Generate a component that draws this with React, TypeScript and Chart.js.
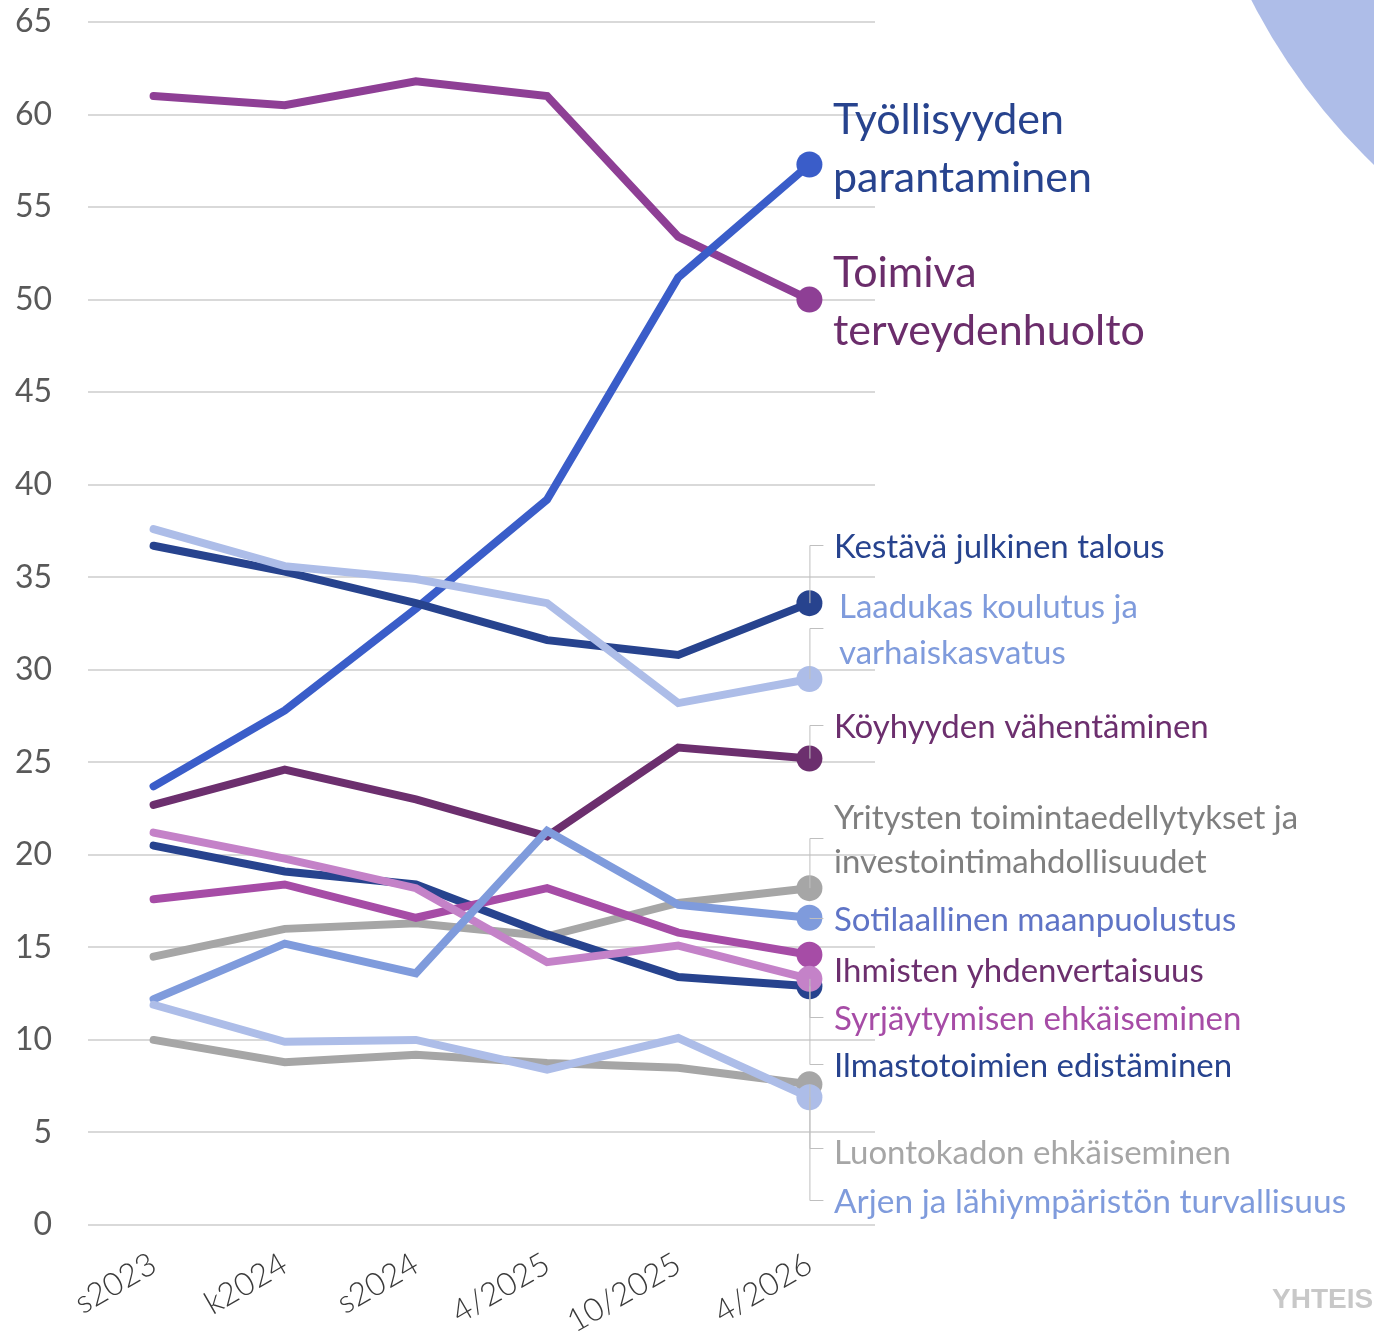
import React, { useEffect, useRef } from 'react';
import { Chart, registerables } from 'chart.js';
Chart.register(...registerables);

// ---- data ----
const categories = ['s2023', 'k2024', 's2024', '4/2025', '10/2025', '4/2026'];
const tyollisyys = [23.7, 27.8, 33.3, 39.2, 51.2, 57.3];
const terveydenhuolto = [61.0, 60.5, 61.8, 61.0, 53.4, 50.0];
const julkinenTalous = [36.7, 35.3, 33.6, 31.6, 30.8, 33.6];
const koulutus = [37.6, 35.6, 34.9, 33.6, 28.2, 29.5];
const koyhyys = [22.7, 24.6, 23.0, 21.0, 25.8, 25.2];
const yritykset = [14.5, 16.0, 16.3, 15.6, 17.4, 18.2];
const maanpuolustus = [12.2, 15.2, 13.6, 21.3, 17.3, 16.6];
const yhdenvertaisuus = [17.6, 18.4, 16.6, 18.2, 15.8, 14.6];
const syrjaytyminen = [21.2, 19.8, 18.2, 14.2, 15.1, 13.3];
const ilmasto = [20.5, 19.1, 18.4, 15.7, 13.4, 12.9];
const luontokato = [10.0, 8.8, 9.2, 8.75, 8.5, 7.6];
const turvallisuus = [11.9, 9.9, 10.0, 8.4, 10.1, 6.9];
const yMin = 0;
const yMax = 65;
const yStep = 5;

// ---- series styling & label layout (bottom-to-top drawing order) ----
type Series = {
  name: string[];
  data: number[];
  color: string;
  textColor: string;
  fontSize: number;
  lineGap: number;
  labelValue: number; // y-value at which the first label line is centred
  elbowValue: number | null; // y-value of leader elbow
  textX: number;
};

const series: Series[] = [
  { name: ['Toimiva', 'terveydenhuolto'], data: terveydenhuolto, color: '#8e3f95', textColor: '#6b2d6b', fontSize: 43, lineGap: 58, labelValue: 51.44, elbowValue: null, textX: 833 },
  { name: ['Työllisyyden', 'parantaminen'], data: tyollisyys, color: '#3a5dc9', textColor: '#27438e', fontSize: 43, lineGap: 58, labelValue: 59.7, elbowValue: null, textX: 833 },
  { name: ['Kestävä julkinen talous'], data: julkinenTalous, color: '#27438e', textColor: '#27438e', fontSize: 33, lineGap: 0, labelValue: 36.63, elbowValue: 36.74, textX: 834 },
  { name: ['Laadukas koulutus ja', 'varhaiskasvatus'], data: koulutus, color: '#adbde8', textColor: '#7f9bdc', fontSize: 33, lineGap: 46, labelValue: 33.39, elbowValue: 32.26, textX: 839 },
  { name: ['Köyhyyden vähentäminen'], data: koyhyys, color: '#6c2f6e', textColor: '#6c2f6e', fontSize: 33, lineGap: 0, labelValue: 26.91, elbowValue: 27.02, textX: 834 },
  { name: ['Yritysten toimintaedellytykset ja', 'investointimahdollisuudet'], data: yritykset, color: '#a6a6a6', textColor: '#7f7f7f', fontSize: 33, lineGap: 44, labelValue: 21.99, elbowValue: 20.91, textX: 834 },
  { name: ['Ilmastotoimien edistäminen'], data: ilmasto, color: '#27438e', textColor: '#27438e', fontSize: 33, lineGap: 0, labelValue: 8.59, elbowValue: 8.7, textX: 834 },
  { name: ['Ihmisten yhdenvertaisuus'], data: yhdenvertaisuus, color: '#a64ca6', textColor: '#6c2f6e', fontSize: 33, lineGap: 0, labelValue: 13.72, elbowValue: null, textX: 834 },
  { name: ['Syrjäytymisen ehkäiseminen'], data: syrjaytyminen, color: '#c482c8', textColor: '#a64ca6', fontSize: 33, lineGap: 0, labelValue: 11.13, elbowValue: 11.24, textX: 834 },
  { name: ['Sotilaallinen maanpuolustus'], data: maanpuolustus, color: '#7f9bdc', textColor: '#5f74c6', fontSize: 33, lineGap: 0, labelValue: 16.48, elbowValue: 16.6, textX: 834 },
  { name: ['Luontokadon ehkäiseminen'], data: luontokato, color: '#a6a6a6', textColor: '#a6a6a6', fontSize: 33, lineGap: 0, labelValue: 3.89, elbowValue: 4.16, textX: 834 },
  { name: ['Arjen ja lähiympäristön turvallisuus'], data: turvallisuus, color: '#adbde8', textColor: '#7f9bdc', fontSize: 33.5, lineGap: 0, labelValue: 1.24, elbowValue: 1.35, textX: 834 },
];

const FONT = 'Lato, "Open Sans", sans-serif';

const decorPlugin = {
  id: 'decor',
  beforeDraw(chart: any) {
    const ctx = chart.ctx;
    ctx.save();
    ctx.fillStyle = '#ffffff';
    ctx.fillRect(0, 0, chart.width, chart.height);
    ctx.beginPath();
    ctx.arc(1800, -280, 616, 0, Math.PI * 2);
    ctx.fillStyle = '#aebde8';
    ctx.fill();
    ctx.restore();
  },
  afterDatasetsDraw(chart: any) {
    const ctx = chart.ctx;
    const yScale = chart.scales.y;
    const xScale = chart.scales.x;
    const lastIdx = categories.length - 1;
    const px = xScale.getPixelForValue(lastIdx);
    ctx.save();
    // leader lines
    ctx.strokeStyle = '#bfbfbf';
    ctx.lineWidth = 1;
    series.forEach((s) => {
      if (s.elbowValue === null) return;
      const py = yScale.getPixelForValue(s.data[lastIdx]);
      const ey = yScale.getPixelForValue(s.elbowValue);
      ctx.beginPath();
      ctx.moveTo(px + 0.5, py);
      ctx.lineTo(px + 0.5, Math.round(ey) + 0.5);
      ctx.lineTo(px + 14, Math.round(ey) + 0.5);
      ctx.stroke();
    });
    // labels
    ctx.textBaseline = 'middle';
    ctx.textAlign = 'left';
    series.forEach((s) => {
      ctx.font = `${s.fontSize}px ${FONT}`;
      ctx.fillStyle = s.textColor;
      const y0 = yScale.getPixelForValue(s.labelValue);
      s.name.forEach((line, i) => {
        ctx.fillText(line, s.textX, y0 + i * s.lineGap);
      });
    });
    // watermark
    ctx.font = 'bold 28px "Liberation Sans", Arial, sans-serif';
    ctx.fillStyle = '#c8c8c8';
    ctx.fillText('YHTEIS', 1272, 1300);
    ctx.restore();
  },
};

export default function App() {
  const ref = useRef<HTMLCanvasElement | null>(null);
  useEffect(() => {
    if (!ref.current) return;
    const n = series.length;
    const chart = new Chart(ref.current, {
      type: 'line',
      data: {
        labels: categories,
        datasets: series.map((s, i) => ({
          label: s.name.join(' '),
          data: s.data,
          borderColor: s.color,
          backgroundColor: s.color,
          borderWidth: 8,
          borderCapStyle: 'round' as const,
          borderJoinStyle: 'miter' as const,
          tension: 0,
          fill: false,
          pointRadius: s.data.map((_, j) => (j === s.data.length - 1 ? 13 : 0)),
          pointHoverRadius: 0,
          pointBorderWidth: 0,
          pointBackgroundColor: s.color,
          order: n - i,
        })),
      },
      options: {
        animation: false,
        responsive: false,
        devicePixelRatio: 1,
        layout: { padding: { top: 22, right: 499, bottom: 0, left: 0 } },
        plugins: {
          legend: { display: false },
          tooltip: { enabled: false },
          title: { display: false },
        },
        events: [],
        scales: {
          x: {
            type: 'category',
            offset: true,
            grid: { display: false, drawTicks: false },
            border: { display: false },
            ticks: {
              color: '#3a3a3a',
              font: { family: FONT, size: 32, weight: '300' },
              minRotation: 30,
              maxRotation: 30,
              autoSkip: false,
              padding: 20,
            },
            afterFit: (s: any) => {
              s.height = 107;
              s.paddingLeft = 0;
              s.paddingRight = 0;
            },
          },
          y: {
            min: yMin,
            max: yMax,
            ticks: {
              stepSize: yStep,
              color: '#595959',
              font: { family: FONT, size: 32 },
              padding: 36,
            },
            grid: { color: '#d9d9d9', lineWidth: 2, drawTicks: false },
            border: { display: false },
            afterFit: (s: any) => {
              s.width = 88;
              s.paddingTop = 0;
              s.paddingBottom = 0;
            },
          },
        },
      },
      plugins: [decorPlugin],
    });
    return () => chart.destroy();
  }, []);
  return (
    <div style={{ position: 'fixed', left: 0, top: 0, width: 1374, height: 1332, background: '#fff' }}>
      <canvas ref={ref} width={1374} height={1332} style={{ width: 1374, height: 1332, display: 'block' }} />
    </div>
  );
}
